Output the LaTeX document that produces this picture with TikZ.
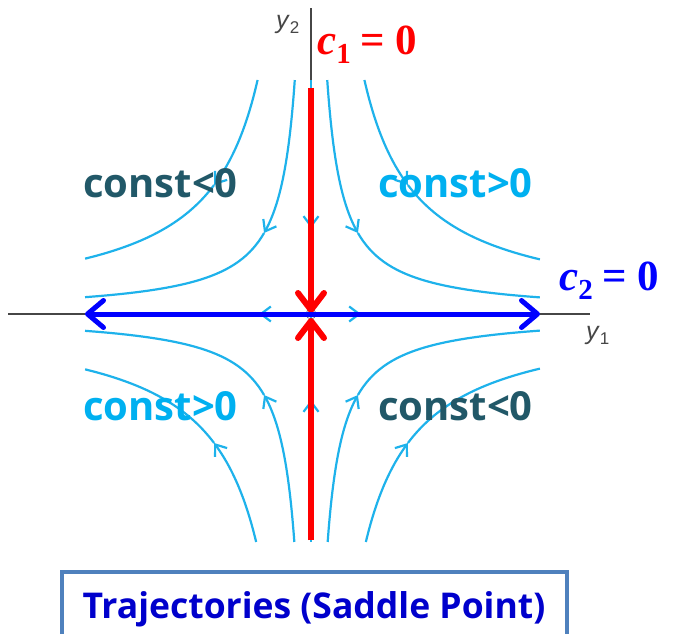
\documentclass[tikz,border=0pt]{standalone}
\usepackage{fontspec}
\setmainfont{Liberation Serif}
\newfontfamily\osb{Open Sans}
\newfontfamily\lsans{Liberation Sans}
\usetikzlibrary{arrows.meta}
\definecolor{traj}{RGB}{30,178,235}
\definecolor{cpos}{RGB}{0,176,240}
\definecolor{cneg}{RGB}{33,88,104}
\definecolor{ttl}{RGB}{0,0,204}
\definecolor{boxc}{RGB}{79,129,189}
\definecolor{axc}{RGB}{70,70,70}
\definecolor{bl}{RGB}{0,0,255}
\tikzset{
  trajline/.style={draw=traj, line width=2.2pt},
  trajtip/.style={-{Straight Barb[length=10pt,width=15pt]}},
  constlbl/.style={anchor=base west, inner sep=0pt, font=\osb\bfseries\fontsize{40}{40}\selectfont},
  eqlbl/.style={anchor=base west, inner sep=0pt, font=\fontsize{43}{43}\selectfont\bfseries},
  axlbl/.style={anchor=base west, inner sep=0pt, text=axc, font=\lsans\fontsize{25}{25}\selectfont},
  redarrow/.style={draw=red, line width=6pt, -{Straight Barb[length=17pt,width=26pt,round]}},
  bluearrow/.style={draw=bl, line width=5pt, {Straight Barb[length=16pt,width=27pt,round]}-{Straight Barb[length=16pt,width=27pt,round]}},
}
\begin{document}
\begin{tikzpicture}[x=1pt,y=-1pt]
\useasboundingbox (0,0) rectangle (673,634);
\begin{scope}[shift={(311,314)}, yscale=-1]
  % axes
  \draw[axc, line width=1.2pt] (-303,0) -- (279,0);
  \draw[axc, line width=1.2pt] (0,232) -- (0,306);
  % hyperbolic trajectories
  \foreach \px/\py/\vmax/\umax in {-1/1/234/226, 1/1/234/229, -1/-1/228/226, 1/-1/228/229} {
    \foreach \sq/\vat in {61.64/81, 111.8/129} {
      \pgfmathsetmacro\tA{-ln(\vmax/\sq)}
      \pgfmathsetmacro\tB{-ln(\vat/\sq)}
      \pgfmathsetmacro\tC{ln(\umax/\sq)}
      \draw[trajline, trajtip] plot[domain=\tA:\tB, samples=30, variable=\t] ({\px*\sq*exp(\t)},{\py*\sq*exp(-\t)});
      \draw[trajline] plot[domain=\tB:\tC, samples=30, variable=\t] ({\px*\sq*exp(\t)},{\py*\sq*exp(-\t)});
    }
  }
  % trajectories on the axes
  \draw[trajline, trajtip] (0,234) -- (0,86);
  \draw[trajline] (0,86) -- (0,0);
  \draw[trajline, trajtip] (0,-228) -- (0,-86);
  \draw[trajline] (0,-86) -- (0,0);
  \draw[trajline, trajtip] (0,0) -- (-52,0);
  \draw[trajline] (-52,0) -- (-226,0);
  \draw[trajline, trajtip] (0,0) -- (50,0);
  \draw[trajline] (50,0) -- (229,0);
  \draw[gray, line width=0.8pt] (0,0) circle (5);
  % eigen-directions
  \coordinate (rt) at (0,226);
  \coordinate (rb) at (0,-226);
  \coordinate (o1) at (0,1);
  \coordinate (o2) at (0,-4);
  \coordinate (bleft) at (-226,0);
  \coordinate (bright) at (229,0);
  \draw[redarrow] (rt) -- (o1);
  \draw[redarrow] (rb) -- (o2);
  \draw[bluearrow] (bleft) -- (bright);
\end{scope}
% region labels
\node[constlbl, text=cneg] (q2) at (83,197) {const<0};
\node[constlbl, text=cpos] (q1) at (378,197) {const>0};
\node[constlbl, text=cpos] (q3) at (83,420) {const>0};
\node[constlbl, text=cneg] (q4) at (378,420) {const<0};
% eigen labels
\node[eqlbl, text=red] (c1) at (317,55) {\textit{c}\raisebox{-9pt}{\fontsize{29}{29}\selectfont 1}\hspace{10pt}=\hspace{10pt}0};
\node[eqlbl, text=bl] (c2) at (559,290) {\textit{c}\raisebox{-9pt}{\fontsize{29}{29}\selectfont 2}\hspace{10pt}=\hspace{10pt}0};
% axis labels
\node[axlbl] (y2) at (276,29) {\textit{y}\raisebox{-5pt}{\fontsize{17}{17}\selectfont 2}};
\node[axlbl] (y1) at (586,339) {\textit{y}\raisebox{-5pt}{\fontsize{17}{17}\selectfont 1}};
% title box
\draw[draw=boxc, line width=4pt, fill=white] (62,572) rectangle (567,660);
\node[anchor=base, inner sep=0pt, text=ttl, font=\osb\bfseries\fontsize{35.5}{35.5}\selectfont] (title) at (314,618) {Trajectories (Saddle Point)};
\end{tikzpicture}
\end{document}
